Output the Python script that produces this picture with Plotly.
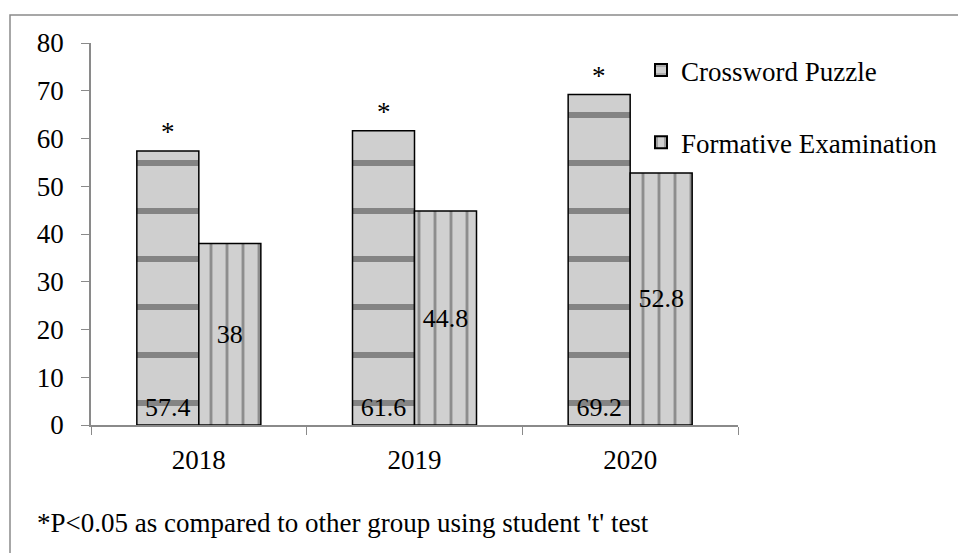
import plotly.graph_objects as go

years = ["2018", "2019", "2020"]
crossword = [57.4, 61.6, 69.2]
formative = [38, 44.8, 52.8]
series_names = ["Crossword Puzzle", "Formative Examination"]
y_ticks = [0, 10, 20, 30, 40, 50, 60, 70, 80]
footnote = "*P<0.05 as compared to other group using student 't' test"

FONT = "Liberation Serif"
W, H = 958, 553
L, R, T, B = 91, 220, 43, 128
pw, ph = W - L - R, H - T - B

fig = go.Figure()
fig.add_trace(go.Bar(
    x=years, y=crossword, name=series_names[0], legendgroup="a",
    text=[str(v) for v in crossword], textposition="inside", insidetextanchor="start",
    textfont=dict(family=FONT, size=26, color="black"), textangle=0,
    marker=dict(color="#c4c4c4", line=dict(color="black", width=1.5),
                pattern=dict(shape="-", fgcolor="#3a3a3a", bgcolor="#cfcfcf", size=48, solidity=0.12)),
))
fig.add_trace(go.Bar(
    x=years, y=formative, name=series_names[1], legendgroup="b",
    text=[str(v) for v in formative], textposition="inside", insidetextanchor="middle",
    textfont=dict(family=FONT, size=26, color="black"), textangle=0,
    marker=dict(color="#c4c4c4", line=dict(color="black", width=1.5),
                pattern=dict(shape="|", fgcolor="#4a4a4a", bgcolor="#d0d0d0", size=16, solidity=0.18)),
))

# significance markers above each crossword bar (x given as category index)
for i, v in enumerate(crossword):
    fig.add_annotation(x=i, y=v, xshift=-31, yshift=2, text="*", showarrow=False,
                       yanchor="bottom", font=dict(family=FONT, size=27, color="black"))

fig.add_annotation(xref="paper", yref="paper", x=(35 - L) / pw, y=(H - B - 523) / ph,
                   xanchor="left", yanchor="middle", text=footnote, showarrow=False,
                   font=dict(family=FONT, size=27, color="black"))

# outer frame
fig.add_shape(type="rect", xref="paper", yref="paper",
              x0=(10 - L) / pw, x1=(W + 20 - L) / pw,
              y0=(H - B - (H + 20)) / ph, y1=(H - B - 15) / ph,
              line=dict(color="#8a8a8a", width=1.5), fillcolor="rgba(0,0,0,0)", layer="below")

fig.update_layout(
    width=W, height=H,
    margin=dict(l=L, r=R, t=T, b=B),
    paper_bgcolor="white", plot_bgcolor="white",
    barmode="group", bargap=0.425, bargroupgap=0,
    showlegend=True,
    legend=dict(x=(641 - L) / pw, y=(H - B - 46) / ph, xanchor="left", yanchor="top",
                font=dict(family=FONT, size=27, color="black"),
                bgcolor="rgba(0,0,0,0)", tracegroupgap=34, traceorder="grouped",
                itemsizing="constant"),
    font=dict(family=FONT, color="black"),
)
fig.update_xaxes(type="category", range=[-0.5, len(years) - 0.5], showline=True,
                 linecolor="#8a8a8a", linewidth=1.5, ticks="outside",
                 tickson="boundaries", ticklen=8, tickcolor="#8a8a8a",
                 tickfont=dict(family=FONT, size=27, color="black"), ticklabelstandoff=10,
                 showgrid=False, zeroline=False)
fig.update_yaxes(range=[0, 80], tickvals=y_ticks, showline=True, linecolor="#8a8a8a",
                 linewidth=1.5, ticks="outside", ticklen=8, tickcolor="#8a8a8a",
                 tickfont=dict(family=FONT, size=27, color="black"), ticklabelstandoff=12,
                 showgrid=False, zeroline=False)

fig.write_html("out.html")
